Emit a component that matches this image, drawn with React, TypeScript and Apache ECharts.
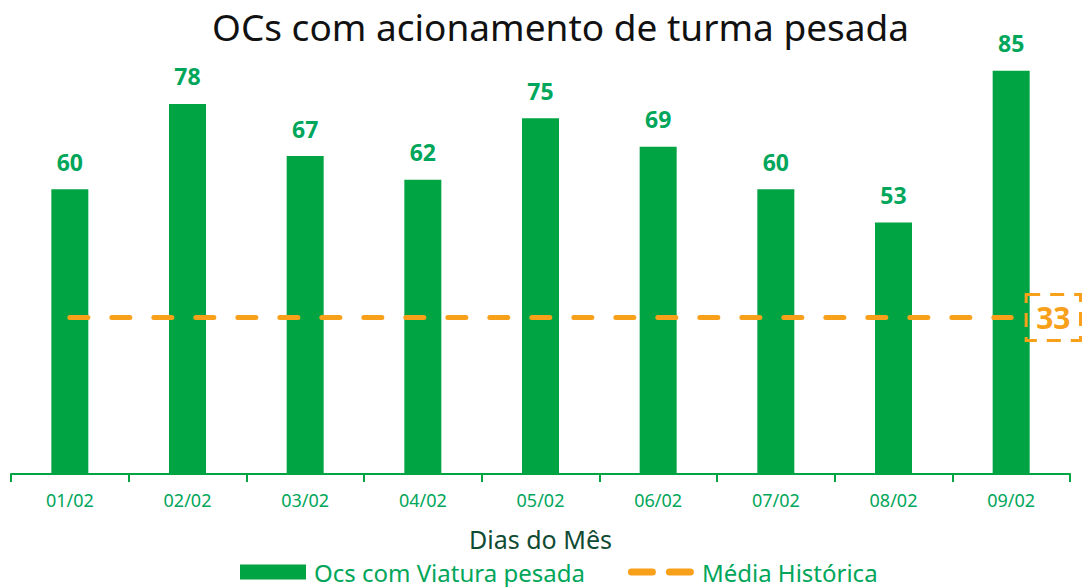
import React, { useEffect, useRef } from "react";
import * as echarts from "echarts";

const categories = ["01/02", "02/02", "03/02", "04/02", "05/02", "06/02", "07/02", "08/02", "09/02"];
const ocsValues = [60, 78, 67, 62, 75, 69, 60, 53, 85];
const mediaValues = [33, 33, 33, 33, 33, 33, 33, 33, 33];

const GREEN = "#00A443";
const LABEL_GREEN = "#00A65A";
const ORANGE = "#F9A01B";
const DARK_GREEN = "#0F4A33";
const FONT = "Noto Sans";

const DASH_ICON =
  "path://M0,0L0.01,0ZM65.99,15L66,15Z" +
  "M3.5,4H24.5A3.5,3.5,0,0,1,24.5,11H3.5A3.5,3.5,0,0,1,3.5,4Z" +
  "M41.5,4H62.5A3.5,3.5,0,0,1,62.5,11H41.5A3.5,3.5,0,0,1,41.5,4Z";

export default function App() {
  const ref = useRef<HTMLDivElement>(null);
  useEffect(() => {
    const chart = echarts.init(ref.current!, null, { renderer: "svg" });
    chart.setOption({
      animation: false,
      textStyle: { fontFamily: FONT },
      title: {
        text: "OCs com acionamento de turma pesada",
        left: 207,
        top: 3,
        textStyle: { fontFamily: FONT, fontSize: 37, fontWeight: "normal", color: "#111" },
      },
      legend: {
        top: 555,
        left: 235,
        itemWidth: 66,
        itemHeight: 15,
        itemGap: 43,
        textStyle: { fontFamily: FONT, fontSize: 24, color: LABEL_GREEN, padding: [0, 0, 0, 3] },
        data: [
          { name: "Ocs com Viatura pesada", icon: "rect" },
          { name: "Média Histórica", icon: DASH_ICON, itemStyle: { color: ORANGE } },
        ],
      },
      grid: { left: 11, right: 15, top: 47, bottom: 113, containLabel: false },
      xAxis: {
        type: "category",
        data: categories,
        name: "Dias do Mês",
        nameLocation: "middle",
        nameGap: 52,
        nameTextStyle: { fontFamily: FONT, fontSize: 25, color: DARK_GREEN },
        axisLine: { lineStyle: { color: GREEN, width: 2 } },
        axisTick: { show: true, length: 8, lineStyle: { color: GREEN, width: 2 } },
        axisLabel: { color: LABEL_GREEN, fontSize: 18, margin: 17, fontFamily: FONT },
      },
      yAxis: {
        type: "value",
        min: 0,
        max: 90,
        show: false,
        splitLine: { show: false },
      },
      series: [
        {
          name: "Ocs com Viatura pesada",
          type: "bar",
          data: ocsValues,
          barWidth: 37,
          itemStyle: { color: GREEN },
          label: {
            show: true,
            position: "top",
            distance: 16,
            color: LABEL_GREEN,
            fontSize: 23,
            fontWeight: "bold",
            fontFamily: FONT,
          },
        },
        {
          name: "Média Histórica",
          type: "line",
          data: mediaValues,
          symbol: "none",
          lineStyle: { color: ORANGE, width: 5, type: [18, 24], cap: "round" },
          itemStyle: { color: ORANGE },
          endLabel: {
            show: true,
            distance: 15,
            color: ORANGE,
            fontSize: 30,
            fontWeight: "bold",
            fontFamily: FONT,
            borderColor: ORANGE,
            borderWidth: 3,
            borderType: [14, 10],
            padding: [9, 10, 7, 10],
            formatter: (p: any) => String(p.value),
          },
          z: 5,
        },
      ],
    });
    return () => chart.dispose();
  }, []);
  return <div ref={ref} style={{ width: 1085, height: 587, position: "absolute", left: 0, top: 0 }} />;
}
